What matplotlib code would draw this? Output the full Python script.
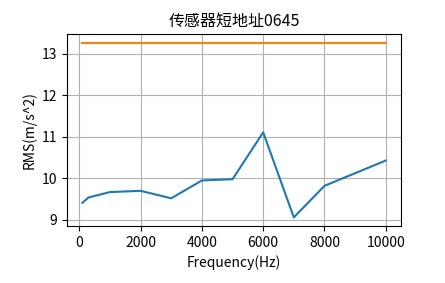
import matplotlib
matplotlib.use("Agg")
import matplotlib.pyplot as plt

plt.rcParams['font.family'] = ['Noto Sans CJK SC', 'DejaVu Sans']
plt.rcParams['axes.unicode_minus'] = False

freq = [100, 300, 1000, 2000, 3000, 4000, 5000, 6000, 7000, 8000, 10000]
rms = [9.41, 9.54, 9.67, 9.70, 9.52, 9.95, 9.98, 11.11, 9.06, 9.82, 10.43]
limit = [13.27] * len(freq)

fig = plt.figure(figsize=(4.45, 2.83), dpi=100)
ax = fig.add_axes([0.151, 0.201, 0.750, 0.679])
ax.plot(freq, rms, color='#1f77b4')
ax.plot(freq, limit, color='#ff7f0e')
ax.grid(True)
ax.set_title('传感器短地址0645', fontsize=11.5)
ax.set_xlabel('Frequency(Hz)')
ax.set_ylabel('RMS(m/s^2)')
ax.set_xticks([0, 2000, 4000, 6000, 8000, 10000])
ax.set_yticks([9, 10, 11, 12, 13])
fig.savefig('out.png', dpi=100)
